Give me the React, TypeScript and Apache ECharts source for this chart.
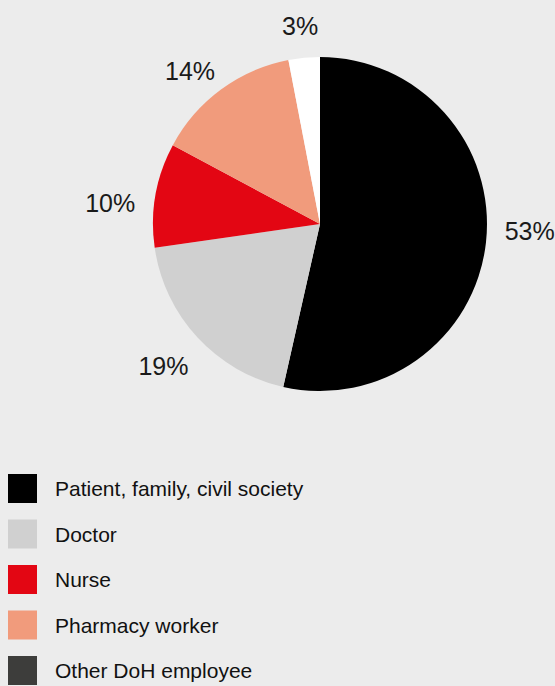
import React, { useEffect, useRef } from "react";
import * as echarts from "echarts";

const categories = [
  "Patient, family, civil society",
  "Doctor",
  "Nurse",
  "Pharmacy worker",
  "Other DoH employee",
];
const shares = [53, 19, 10, 14, 3];
const sliceColors = ["#000000", "#d0d0d0", "#e30613", "#f19b7c", "#ffffff"];
const legendSwatchColors = ["#000000", "#d0d0d0", "#e30613", "#f19b7c", "#3d3d3b"];
// small per-label nudges (pixels) away from the radial position
const labelNudges: [number, number][] = [
  [2, -16],
  [-3, 0],
  [-4, 15],
  [-6, 15],
  [0, 10],
];

export default function App() {
  const ref = useRef<HTMLDivElement>(null);
  useEffect(() => {
    const chart = echarts.init(ref.current!, null, { renderer: "svg" });
    const data = categories.map((name, i) => ({
      name,
      value: shares[i],
      itemStyle: { color: sliceColors[i] },
    }));
    chart.setOption({
      animation: false,
      backgroundColor: "#ececec",
      legend: {
        orient: "vertical",
        left: 3,
        top: 469,
        height: 260,
        itemWidth: 29,
        itemHeight: 29,
        itemGap: 16.5,
        icon: "rect",
        selectedMode: false,
        data: categories.map((name, i) => ({
          name,
          itemStyle: { color: legendSwatchColors[i] },
        })),
        textStyle: {
          fontFamily: "Liberation Sans",
          fontSize: 21,
          color: "#111111",
          padding: [0, 0, 0, 13],
        },
      },
      series: [
        {
          type: "pie",
          center: [320, 224],
          radius: [0, 167],
          startAngle: 90,
          data,
          itemStyle: { borderWidth: 0 },
          label: { show: false },
          labelLine: { show: false },
          silent: true,
        },
        {
          type: "pie",
          center: [320, 224],
          radius: [196, 216],
          startAngle: 90,
          data: categories.map((name, i) => ({
            name,
            value: shares[i],
            label: { offset: labelNudges[i] },
          })),
          itemStyle: { color: "transparent", borderWidth: 0 },
          label: {
            show: true,
            position: "inside",
            formatter: "{c}%",
            fontSize: 25,
            color: "#1a1a1a",
            fontFamily: "Liberation Sans",
          },
          labelLine: { show: false },
          silent: true,
          legendHoverLink: false,
        },
      ],
    });
    return () => chart.dispose();
  }, []);
  return (
    <div
      ref={ref}
      style={{ position: "fixed", left: 0, top: 0, width: 555, height: 686 }}
    />
  );
}
